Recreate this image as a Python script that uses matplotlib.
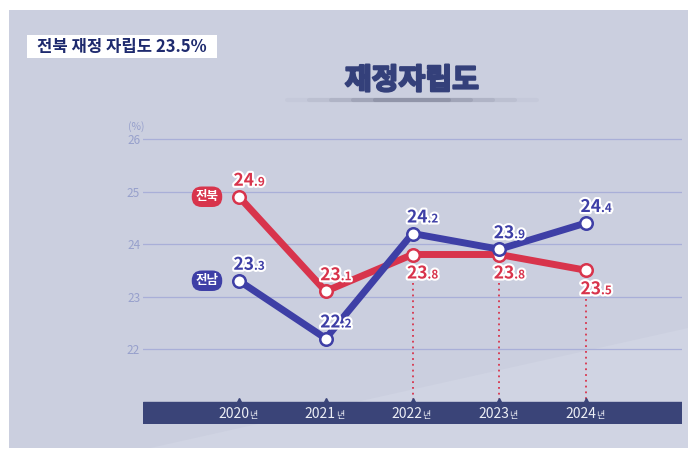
import matplotlib
matplotlib.use("Agg")
import matplotlib.pyplot as plt
import matplotlib.patheffects as pe
from matplotlib.patches import Rectangle, Polygon

plt.rcParams['font.family'] = ['Noto Sans CJK KR', 'DejaVu Sans']

# data
years = [2020, 2021, 2022, 2023, 2024]
jeonbuk = [24.9, 23.1, 23.8, 23.8, 23.5]
jeonnam = [23.3, 22.2, 24.2, 23.9, 24.4]
yticks = [22, 23, 24, 25, 26]
series_names = ["전북", "전남"]

RED = "#d8344c"
BLUE = "#3e3fa6"
NAVY = "#3a4478"
GRID = "#a9afd8"
BG = "#cbcfdf"

W, H = 693, 453
fig = plt.figure(figsize=(W / 100, H / 100), dpi=100, facecolor="white")

# background panel and lighter diagonal band
fig.patches.append(Rectangle((9 / W, 1 - 448 / H), (688 - 9) / W, (448 - 10) / H,
                             transform=fig.transFigure, facecolor=BG, edgecolor="none", zorder=-2))
fig.patches.append(Polygon([(150 / W, 1 - 448 / H), (688 / W, 1 - 448 / H), (688 / W, 1 - 328 / H)],
                           closed=True, transform=fig.transFigure, facecolor="#d0d4e3",
                           edgecolor="none", zorder=-1))

# top-left caption box
fig.patches.append(Rectangle((27 / W, 1 - 58 / H), (217 - 27) / W, (58 - 35) / H,
                             transform=fig.transFigure, facecolor="white", edgecolor="none", zorder=1))
fig.text(37 / W, 1 - 47 / H, "전북 재정 자립도 23.5%", fontsize=12, fontweight="bold",
         color="#1e2a6e", va="center", ha="left", zorder=2)

# title with soft shadow line
for i, a in enumerate([0.04, 0.07, 0.1, 0.14, 0.18]):
    half = 125 - i * 22
    fig.add_artist(plt.Line2D([(412 - half) / W, (412 + half) / W], [1 - 100 / H, 1 - 100 / H],
                              transform=fig.transFigure, color="#4a4f66", lw=3, alpha=a,
                              solid_capstyle="round"))
fig.text(412 / W, 1 - 80 / H, "재정자립도", fontsize=21, fontweight="bold", color="#34407a",
         ha="center", va="center",
         path_effects=[pe.withStroke(linewidth=1.5, foreground="#34407a")])

# data axes
left, right, top, bottom = 143, 682, 120, 424
ax = fig.add_axes([left / W, 1 - bottom / H, (right - left) / W, (bottom - top) / H])
ax.set_zorder(3)
ax.set_facecolor("none")
px_unit = 52.5
ax.set_ylim(22 - (bottom - 349) / px_unit, 26 + (139 - top) / px_unit)
xpad = 96 / 86.75
ax.set_xlim(years[0] - xpad, years[-1] + xpad)
for s in ax.spines.values():
    s.set_visible(False)
ax.set_xticks([])
ax.set_yticks(yticks)
ax.set_yticklabels([str(t) for t in yticks], fontsize=8.5, color="#97a0cc")
ax.tick_params(axis="y", length=0, pad=2)
for t in yticks:
    ax.axhline(t, color=GRID, lw=0.9, zorder=1)
ax.annotate("(%)", xy=(0, 26), xycoords=("axes fraction", "data"), xytext=(-7, 12),
            textcoords="offset pixels", ha="center", va="center", fontsize=7.5, color="#97a0cc")

# bottom year bar
bar_top = 22 - (402 - 349) / px_unit
ax.axhspan(ax.get_ylim()[0], bar_top, color=NAVY, zorder=2)
ax.plot(years, [bar_top] * len(years), linestyle="none", marker="^", markersize=6,
        color=NAVY, zorder=2, clip_on=False)
year_y = 22 - (418 - 349) / px_unit
for yr in years:
    ax.annotate(str(yr), xy=(yr, year_y), xytext=(10, 0), textcoords="offset pixels",
                ha="right", va="baseline", fontsize=10, color="#eceef5", zorder=3)
    ax.annotate("년", xy=(yr, year_y), xytext=(10, 0), textcoords="offset pixels",
                ha="left", va="baseline", fontsize=6.5, color="#eceef5", zorder=3)

# dotted guides under red points
for yr, v in zip(years[2:], jeonbuk[2:]):
    ax.plot([yr, yr], [v - 0.55, bar_top + 0.05], color=RED, lw=1.3, linestyle=(0, (1, 2.2)),
            zorder=1.5)

stroke = [pe.withStroke(linewidth=3, foreground="white")]


def value_label(x, v, color, dy):
    whole, dec = f"{v:.1f}".split(".")
    ax.annotate(whole, xy=(x, v), xytext=(15, dy), textcoords="offset pixels", ha="right",
                va="baseline", fontsize=12.5, fontweight="bold", color=color,
                path_effects=stroke, zorder=6)
    ax.annotate("." + dec, xy=(x, v), xytext=(15, dy), textcoords="offset pixels", ha="left",
                va="baseline", fontsize=8.5, fontweight="bold", color=color,
                path_effects=stroke, zorder=6)


for vals, color, name in [(jeonbuk, RED, series_names[0]), (jeonnam, BLUE, series_names[1])]:
    ax.plot(years, vals, color=color, lw=5, zorder=4, solid_capstyle="round")
    ax.plot(years, vals, linestyle="none", marker="o", markersize=9, markerfacecolor="white",
            markeredgecolor=color, markeredgewidth=1.8, zorder=5)
    ax.annotate(name, xy=(years[0], vals[0]), xytext=(-32, 0), textcoords="offset pixels",
                ha="center", va="center", fontsize=9, fontweight="bold", color="white",
                bbox=dict(boxstyle="round,pad=0.3,rounding_size=0.8", facecolor=color,
                          edgecolor="none"), zorder=6)

red_dy = [11, 11, -24, -24, -24]
blue_dy = [11, 11, 11, 11, 11]
for yr, v, dy in zip(years, jeonbuk, red_dy):
    value_label(yr, v, RED, dy)
for yr, v, dy in zip(years, jeonnam, blue_dy):
    value_label(yr, v, BLUE, dy)

fig.savefig("out.png", dpi=100, facecolor="white")
